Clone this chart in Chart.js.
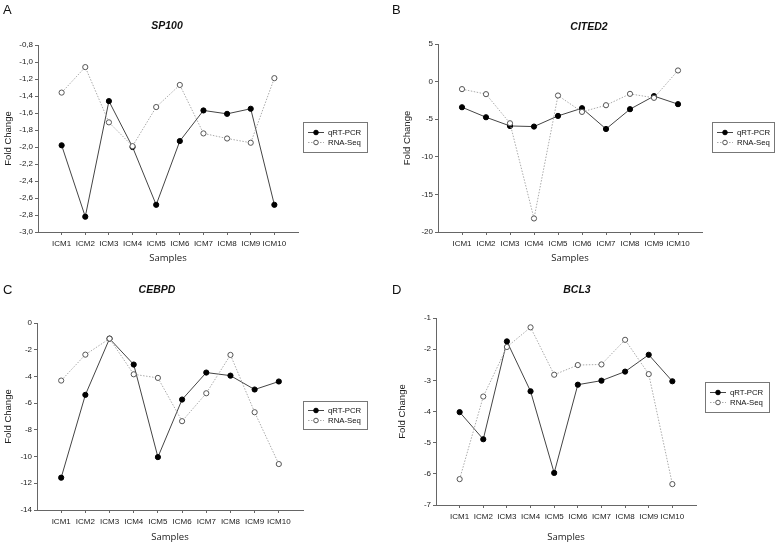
<!DOCTYPE html>
<html lang="en">
<head>
  <meta charset="UTF-8">
  <title>Fold Change qRT-PCR vs RNA-Seq</title>
  <script src="https://cdn.jsdelivr.net/npm/chart.js"></script>
  <style>
    body {
      margin: 0;
      background: #fff;
      width: 778px;
      height: 544px;
      position: relative;
      overflow: hidden;
    }

    .panel {
      position: absolute;
      width: 389px;
      height: 272px;
    }
  </style>
</head>
<body>

  <div class="panel" style="left:0;top:0"><canvas id="chartA" width="389" height="272"></canvas></div>
  <div class="panel" style="left:389px;top:0"><canvas id="chartB" width="389" height="272"></canvas></div>
  <div class="panel" style="left:0;top:272px"><canvas id="chartC" width="389" height="272"></canvas></div>
  <div class="panel" style="left:389px;top:272px"><canvas id="chartD" width="389" height="272"></canvas></div>

  <script>
    const categories = ['ICM1', 'ICM2', 'ICM3', 'ICM4', 'ICM5', 'ICM6', 'ICM7', 'ICM8', 'ICM9', 'ICM10'];
    const seriesNames = ['qRT-PCR', 'RNA-Seq'];

    const sp100Qrt = [-1.98, -2.82, -1.46, -2.0, -2.68, -1.93, -1.57, -1.61, -1.55, -2.68];
    const sp100Rna = [-1.36, -1.06, -1.71, -1.99, -1.53, -1.27, -1.84, -1.90, -1.95, -1.19];
    const sp100Range = [-3.0, -0.8, 0.2];

    const cited2Qrt = [-3.41, -4.74, -5.9, -5.98, -4.56, -3.54, -6.3, -3.67, -1.93, -3.0];
    const cited2Rna = [-1.0, -1.67, -5.54, -18.2, -1.85, -4.03, -3.14, -1.63, -2.16, 1.48];
    const cited2Range = [-20, 5, 5];

    const cebpdQrt = [-11.58, -5.38, -1.17, -3.11, -10.04, -5.73, -3.71, -3.94, -4.98, -4.38];
    const cebpdRna = [-4.31, -2.37, -1.17, -3.84, -4.11, -7.35, -5.26, -2.39, -6.68, -10.56];
    const cebpdRange = [-14, 0, 2];

    const bcl3Qrt = [-4.02, -4.89, -1.75, -3.35, -5.97, -3.14, -3.01, -2.72, -2.18, -3.03];
    const bcl3Rna = [-6.17, -3.52, -1.93, -1.30, -2.82, -2.51, -2.49, -1.70, -2.80, -6.33];
    const bcl3Range = [-7, -1, 1];

    const W = 389, H = 272;
    const tickFont = { family: "'Liberation Sans', Arial, sans-serif", size: 8 };

    // letter, title and boxed legend drawn on top of the chart
    const panelDecor = {
      id: 'panelDecor',
      afterDraw(chart, args, o) {
        const ctx = chart.ctx;
        ctx.save();
        ctx.fillStyle = '#111';
        ctx.textBaseline = 'middle';
        ctx.font = "13px 'Liberation Sans', Arial, sans-serif";
        ctx.textAlign = 'left';
        ctx.fillText(o.letter, 3, o.letterY);
        ctx.font = "italic bold 10.5px 'Liberation Sans', Arial, sans-serif";
        ctx.textAlign = 'center';
        ctx.fillText(o.title, o.titleX, o.titleY);

        const lg = o.legend;
        ctx.strokeStyle = '#777';
        ctx.lineWidth = 1;
        ctx.strokeRect(lg.x + 0.5, lg.y + 0.5, lg.w, lg.h);
        ctx.font = "7.8px 'Liberation Sans', Arial, sans-serif";
        ctx.textAlign = 'left';
        chart.data.datasets.forEach((ds, i) => {
          const y = lg.y + lg.h / 2 + (i === 0 ? -5 : 5) + 0.5;
          const x0 = lg.x + 5, x1 = x0 + 16;
          ctx.save();
          ctx.strokeStyle = ds.borderColor;
          ctx.setLineDash(ds.borderDash || []);
          ctx.beginPath();
          ctx.moveTo(x0, y);
          ctx.lineTo(x1, y);
          ctx.stroke();
          ctx.restore();
          ctx.beginPath();
          ctx.arc((x0 + x1) / 2, y, 2.3, 0, Math.PI * 2);
          ctx.fillStyle = ds.pointBackgroundColor;
          ctx.fill();
          ctx.strokeStyle = ds.pointBorderColor;
          ctx.stroke();
          ctx.fillStyle = '#111';
          ctx.fillText(ds.label, x1 + 4, y);
        });
        ctx.restore();
      }
    };

    function makePanel(id, cfg) {
      const a = cfg.area;
      const [yMin, yMax, yStep] = cfg.range;
      new Chart(document.getElementById(id), {
        type: 'line',
        data: {
          datasets: [
            {
              label: seriesNames[0],
              data: cfg.qrt.map((v, i) => ({ x: i + 1, y: v })),
              borderColor: '#444',
              borderWidth: 1,
              pointRadius: 2.6,
              pointBorderWidth: 1,
              pointBackgroundColor: '#000',
              pointBorderColor: '#000',
              order: 1
            },
            {
              label: seriesNames[1],
              data: cfg.rna.map((v, i) => ({ x: i + 1, y: v })),
              borderColor: '#aaa',
              borderWidth: 1,
              borderDash: [1.5, 1.5],
              pointRadius: 2.6,
              pointBorderWidth: 1,
              pointBackgroundColor: '#fff',
              pointBorderColor: '#555',
              order: 0
            }
          ]
        },
        options: {
          responsive: false,
          animation: false,
          layout: { padding: { left: 0, top: a.t, right: W - a.r, bottom: 0 } },
          plugins: {
            legend: { display: false },
            tooltip: { enabled: false },
            panelDecor: cfg.decor
          },
          scales: {
            x: {
              type: 'linear',
              min: 0,
              max: categories.length + 1,
              afterBuildTicks: axis => { axis.ticks = categories.map((c, i) => ({ value: i + 1 })); },
              afterFit: scale => { scale.height = H - a.b; },
              ticks: {
                callback: v => categories[v - 1],
                font: tickFont,
                color: '#222',
                padding: 4,
                maxRotation: 0,
                autoSkip: false
              },
              grid: { drawOnChartArea: false, tickLength: 3, color: '#666' },
              border: { color: '#666' },
              title: {
                display: true,
                text: 'Samples',
                color: '#222',
                font: { family: "'Open Sans', sans-serif", size: 9.5 },
                padding: { top: 0, bottom: cfg.samplesPad }
              }
            },
            y: {
              min: yMin,
              max: yMax,
              afterFit: scale => { scale.width = a.l; },
              ticks: {
                stepSize: yStep,
                font: tickFont,
                color: '#222',
                padding: 2,
                callback: cfg.fmt
              },
              grid: { drawOnChartArea: false, tickLength: 3, color: '#666' },
              border: { color: '#666' },
              title: {
                display: true,
                text: 'Fold Change',
                color: '#222',
                font: { family: "'Liberation Sans', Arial, sans-serif", size: 9.5 },
                padding: { top: cfg.foldPad, bottom: 0 }
              }
            }
          }
        },
        plugins: [panelDecor]
      });
    }

    const commaFmt = v => v.toFixed(1).replace('.', ',');
    const intFmt = v => String(Math.round(v));

    makePanel('chartA', {
      qrt: sp100Qrt, rna: sp100Rna, range: sp100Range, fmt: commaFmt,
      area: { l: 38, t: 45, r: 298, b: 232 }, samplesPad: 8.3, foldPad: 2.3,
      decor: { letter: 'A', letterY: 10, title: 'SP100', titleX: 167, titleY: 26,
               legend: { x: 303, y: 122, w: 64, h: 30 } }
    });

    makePanel('chartB', {
      qrt: cited2Qrt, rna: cited2Rna, range: cited2Range, fmt: intFmt,
      area: { l: 49, t: 44, r: 313, b: 232 }, samplesPad: 8.3, foldPad: 12.3,
      decor: { letter: 'B', letterY: 10, title: 'CITED2', titleX: 200, titleY: 27,
               legend: { x: 323, y: 122, w: 62, h: 30 } }
    });

    makePanel('chartC', {
      qrt: cebpdQrt, rna: cebpdRna, range: cebpdRange, fmt: intFmt,
      area: { l: 37, t: 51, r: 303, b: 238 }, samplesPad: 1.3, foldPad: 2.3,
      decor: { letter: 'C', letterY: 18, title: 'CEBPD', titleX: 157, titleY: 18,
               legend: { x: 303, y: 129, w: 64, h: 28 } }
    });

    makePanel('chartD', {
      qrt: bcl3Qrt, rna: bcl3Rna, range: bcl3Range, fmt: intFmt,
      area: { l: 47, t: 46, r: 307, b: 233 }, samplesPad: 1.3, foldPad: 7.3,
      decor: { letter: 'D', letterY: 18, title: 'BCL3', titleX: 188, titleY: 18,
               legend: { x: 316, y: 110, w: 64, h: 30 } }
    });
  </script>

</body>
</html>
